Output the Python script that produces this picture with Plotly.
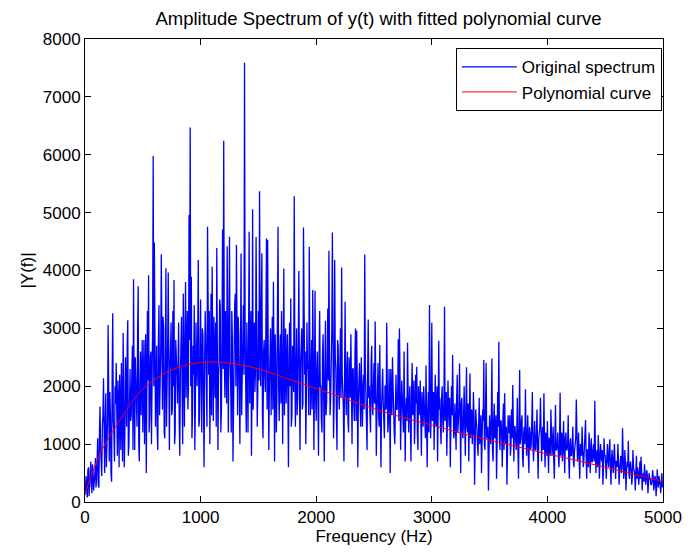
import plotly.graph_objects as go

# Spectrum sampled every 5 Hz; values read from the picture in two interleaved
# lists: samples at 0,10,20,... Hz and samples at 5,15,25,... Hz
freq_step = 10
n_points = 500

# |Y(f)| at 0, 10, 20, ... Hz (blocks of 100 Hz, 10 values each)
spectrum_even = [
    120, 450, 80, 600, 250, 700, 150, 520, 300, 760,           # 0
    400, 1100, 250, 1650, 600, 1300, 2140, 500, 1880, 900,     # 100
    3060, 700, 1500, 350, 3260, 1200, 2000, 2400, 800, 1700,   # 200
    2200, 900, 1800, 2920, 600, 2500, 1300, 3140, 1000, 2300,  # 300
    1500, 2700, 3850, 900, 2100, 1300, 3730, 700, 2600, 1900,  # 400
    1200, 2800, 2000, 500, 3300, 3920, 1500, 2600, 1800, 5980, # 500
    4485, 1300, 2700, 900, 3400, 2200, 4280, 1600, 3000, 1100, # 600
    4040, 1800, 3967, 900, 2900, 1500, 3300, 3834, 1200, 2600, # 700
    1700, 3100, 800, 2700, 1900, 3604, 1300, 3800, 2400, 1600, # 800
    4957, 6471, 3891, 1500, 2200, 900, 3100, 2000, 4180, 1400, # 900
    3500, 1200, 2900, 600, 3300, 1800, 4755, 2200, 1000, 3600, # 1000
    4065, 1400, 2600, 3100, 4387, 900, 2400, 3400, 1600, 4710, # 1100
    6240, 1800, 2800, 4420, 1200, 4582, 2100, 3300, 700, 2600, # 1200
    3600, 4439, 1500, 2900, 1000, 4295, 2300, 3400, 7588, 2000,# 1300
    3100, 1200, 4668, 2500, 800, 5060, 2700, 1900, 4580, 1300, # 1400
    3300, 5371, 2000, 4300, 1100, 2800, 1900, 4554, 4530, 900, # 1500
    2600, 1500, 3200, 3805, 700, 2400, 1800, 4755, 1400, 2900, # 1600
    3300, 1000, 4036, 2200, 1700, 2900, 600, 3100, 3518, 1500, # 1700
    2500, 5285, 1300, 3000, 1800, 3990, 900, 2700, 1600, 4744, # 1800
    2200, 1000, 3100, 2400, 4410, 1500, 2800, 3661, 900, 3650, # 1900
    1400, 2600, 800, 3300, 2000, 1200, 2900, 700, 3131, 1700,  # 2000
    3345, 4341, 1500, 2500, 4658, 1100, 4180, 2300, 900, 2700, # 2100
    1600, 3000, 4053, 2000, 700, 3460, 1500, 2600, 1200, 2200, # 2200
    2900, 1000, 2300, 1400, 3000, 2958, 600, 2100, 1700, 2500, # 2300
    1300, 2200, 4278, 1800, 900, 3155, 2000, 1200, 2700, 1500, # 2400
    2400, 3120, 800, 2000, 1500, 2712, 600, 2200, 1700, 1100,  # 2500
    2000, 3097, 1200, 2300, 500, 1800, 2500, 1400, 1000, 2200, # 2600
    1600, 2810, 3000, 900, 2100, 1400, 2600, 700, 1800, 2750,  # 2700
    1200, 2000, 700, 2400, 1600, 1000, 2200, 2337, 900, 1500,  # 2800
    2100, 800, 1600, 2000, 1300, 2360, 600, 1900, 3402, 1100,  # 2900
    3097, 1500, 900, 2200, 1400, 700, 2786, 1800, 1000, 2000,  # 3000
    1200, 3373, 1600, 800, 2100, 1300, 600, 2000, 2539, 1100,  # 3100
    1700, 900, 2200, 1400, 2395, 500, 1800, 1100, 2000, 800,   # 3200
    2326, 1200, 700, 2222, 1500, 1000, 1900, 300, 1600, 1300,  # 3300
    800, 1800, 1200, 500, 1600, 2452, 900, 2400, 1300, 200,    # 3400
    1500, 1000, 2481, 700, 1700, 1200, 400, 1900, 2769, 900,   # 3500
    1400, 600, 1700, 1877, 1000, 300, 1500, 1200, 800, 1600,   # 3600
    2020, 700, 1300, 900, 1800, 400, 2280, 1100, 1500, 600,    # 3700
    1300, 1950, 800, 1500, 500, 1200, 1000, 1900, 700, 1400,   # 3800
    900, 1600, 400, 1200, 1800, 700, 1300, 1877, 600, 1100,    # 3900
    1400, 500, 1100, 1600, 800, 1300, 400, 1675, 900, 1200,    # 4000
    600, 1888, 1000, 700, 1400, 500, 1200, 900, 1500, 400,     # 4100
    1100, 800, 1300, 600, 1000, 1773, 700, 1200, 400, 900,     # 4200
    1300, 600, 1000, 1416, 400, 900, 1200, 500, 1100, 700,     # 4300
    1000, 1750, 500, 900, 1157, 400, 1000, 700, 300, 1100,     # 4400
    800, 400, 1000, 600, 1083, 300, 900, 500, 1000, 400,       # 4500
    700, 1000, 300, 800, 500, 1273, 400, 900, 200, 700,        # 4600
    1059, 400, 700, 300, 900, 500, 200, 800, 600, 300,         # 4700
    700, 783, 200, 500, 650, 300, 550, 150, 500, 400,          # 4800
    300, 550, 200, 450, 100, 565, 250, 400, 150, 500,          # 4900
]

# |Y(f)| at 5, 15, 25, ... Hz (blocks of 100 Hz, 10 values each)
spectrum_odd = [
    350, 200, 550, 100, 420, 300, 650, 200, 480, 250,          # 0
    700, 300, 1200, 900, 450, 1500, 800, 1300, 600, 1400,      # 100
    1200, 1900, 500, 2200, 1400, 700, 1700, 1100, 2100, 600,   # 200
    1600, 2400, 700, 1900, 1200, 2000, 2700, 800, 1700, 1400,  # 300
    2200, 900, 1800, 2500, 1400, 2900, 1000, 2000, 1500, 2800, # 400
    2300, 1000, 2900, 1700, 2100, 1200, 2500, 1000, 3100, 2000,# 500
    2400, 2000, 1200, 2800, 1500, 2600, 1900, 3200, 1200, 2500,# 600
    1300, 2700, 1900, 2300, 3100, 1600, 2000, 1000, 2800, 2200,# 700
    2600, 1400, 2200, 3200, 1000, 2500, 2900, 1800, 3300, 2000,# 800
    2800, 2000, 1100, 2700, 3400, 1700, 2400, 2900, 1300, 2600,# 900
    2000, 3000, 1700, 2400, 2800, 1300, 2600, 3300, 2100, 1500,# 1000
    2400, 3200, 1800, 1300, 2700, 2200, 3500, 1200, 2900, 2300,# 1100
    2600, 3300, 1700, 2200, 3000, 2400, 1200, 2800, 1900, 3400,# 1200
    2000, 2600, 3200, 1900, 2500, 1500, 3100, 2200, 2900, 1200,# 1300
    2400, 2900, 1700, 3300, 2000, 1600, 3100, 2300, 2600, 1900,# 1400
    2100, 2800, 3400, 1500, 2600, 2200, 3100, 1600, 2500, 2000,# 1500
    3000, 2200, 1600, 2400, 2900, 1200, 3300, 2000, 2500, 1700,# 1600
    2200, 2700, 1500, 3000, 2400, 1800, 2600, 2000, 1300, 2700,# 1700
    1900, 2600, 2200, 1500, 2800, 2100, 2400, 3000, 1700, 2300,# 1800
    2600, 1800, 2300, 1500, 2700, 2100, 1600, 2500, 2000, 1800,# 1900
    2300, 1700, 2500, 2000, 1400, 2600, 1800, 2200, 1500, 2400,# 2000
    2100, 2500, 1800, 3000, 2200, 1700, 2500, 1500, 2800, 1900,# 2100
    2400, 1800, 2200, 1600, 2600, 2000, 2300, 1400, 2500, 1800,# 2200
    1800, 2300, 1700, 2500, 1400, 2100, 1800, 2400, 1300, 1900,# 2300
    2000, 1600, 2300, 1300, 2200, 1800, 1500, 2400, 1700, 2000,# 2400
    1700, 2100, 1500, 2400, 1300, 1900, 1600, 2300, 1400, 2000,# 2500
    1600, 2000, 1400, 1800, 2300, 1500, 2000, 1200, 1900, 1600,# 2600
    1900, 1400, 2200, 1500, 1800, 1200, 2000, 1600, 1400, 1900,# 2700
    1700, 1300, 1900, 1500, 2100, 1400, 1700, 1200, 2000, 1600,# 2800
    1500, 1900, 1300, 1700, 1100, 1800, 1500, 1200, 2000, 1600,# 2900
    1400, 1900, 1700, 1300, 2000, 1500, 1600, 1300, 1800, 1400,# 3000
    1700, 1400, 1900, 1200, 1600, 1800, 1300, 1500, 1700, 1200,# 3100
    1400, 1800, 1200, 1600, 1300, 1700, 1200, 1500, 1300, 1600,# 3200
    1300, 1700, 1400, 1100, 1600, 1200, 1500, 1100, 1400, 1000,# 3300
    1300, 1000, 1500, 1200, 1400, 1000, 1600, 1100, 1300, 1200,# 3400
    1200, 1500, 900, 1400, 1100, 1500, 1000, 1300, 1100, 1400, # 3500
    1100, 1400, 900, 1200, 1300, 900, 1200, 1500, 1000, 1100,  # 3600
    1000, 1300, 1100, 1200, 900, 1300, 1000, 1400, 800, 1200,  # 3700
    1000, 1200, 1100, 800, 1300, 900, 1400, 1000, 1100, 900,   # 3800
    1200, 900, 1100, 1300, 800, 1200, 900, 1000, 1200, 800,    # 3900
    900, 1100, 800, 1200, 1000, 700, 1100, 900, 1000, 800,     # 4000
    1000, 800, 1200, 900, 700, 1100, 900, 1000, 700, 1000,     # 4100
    800, 1000, 700, 900, 1100, 800, 900, 700, 1000, 800,       # 4200
    900, 700, 1000, 800, 900, 600, 1000, 800, 700, 900,        # 4300
    700, 900, 800, 600, 900, 700, 800, 900, 600, 800,          # 4400
    600, 800, 700, 900, 600, 750, 600, 800, 650, 700,          # 4500
    600, 700, 550, 800, 600, 700, 500, 650, 550, 600,          # 4600
    500, 650, 550, 450, 600, 500, 550, 400, 500, 450,          # 4700
    400, 550, 450, 350, 500, 400, 450, 350, 400, 300,          # 4800
    350, 450, 300, 400, 250, 350, 450, 300, 350, 250,          # 4900
]

freqs = []
spectrum = []
for i in range(n_points):
    freqs.append(i * freq_step)
    spectrum.append(spectrum_even[i])
    freqs.append(i * freq_step + freq_step // 2)
    spectrum.append(spectrum_odd[i])

# Fitted polynomial curve, read at selected frequencies
poly_freqs = [0, 125, 250, 500, 750, 1000, 1250, 1500, 1750, 2000, 2250,
              2500, 2750, 3000, 3250, 3500, 3750, 4000, 4250, 4500, 4750, 4990]
poly_vals = [150, 810, 1250, 1950, 2280, 2410, 2400, 2300, 2130, 1960, 1790,
             1610, 1460, 1330, 1190, 1070, 950, 830, 720, 600, 480, 360]

font_family = "Liberation Sans, Arial, Helvetica, sans-serif"

fig = go.Figure()
fig.add_trace(go.Scatter(
    x=freqs, y=spectrum, mode="lines", name="Original spectrum",
    line=dict(color="#0000FF", width=1.3),
))
fig.add_trace(go.Scatter(
    x=poly_freqs, y=poly_vals, mode="lines", name="Polynomial curve",
    line=dict(color="#FF0000", width=1, shape="spline"),
))

axis_common = dict(
    showline=True, linecolor="black", linewidth=1, mirror="ticks",
    ticks="inside", ticklen=6, tickcolor="black", showgrid=False,
    zeroline=False, tickfont=dict(family=font_family, size=17, color="black"),
)

fig.update_layout(
    width=694, height=557,
    margin=dict(l=85, r=22, t=39, b=55),
    paper_bgcolor="white", plot_bgcolor="white",
    font=dict(family=font_family, size=17, color="black"),
    title=dict(text="Amplitude Spectrum of y(t) with fitted polynomial curve",
               x=(85 + 672) / 2 / 694, xref="container", xanchor="center",
               y=1 - 19 / 557, yanchor="middle",
               font=dict(family=font_family, size=18.5, color="black")),
    xaxis=dict(range=[0, 5000], tickmode="array",
               tickvals=[0, 1000, 2000, 3000, 4000, 5000],
               title=dict(text="Frequency (Hz)", standoff=2,
                          font=dict(family=font_family, size=17)),
               **axis_common),
    yaxis=dict(range=[0, 8000], tickmode="array",
               tickvals=[0, 1000, 2000, 3000, 4000, 5000, 6000, 7000, 8000],
               title=dict(text="|Y(f)|", standoff=4,
                          font=dict(family=font_family, size=17)),
               **axis_common),
    legend=dict(x=0.998, y=0.98, xanchor="right", yanchor="top",
                bgcolor="white", bordercolor="black", borderwidth=1,
                font=dict(family=font_family, size=17, color="black"),
                itemwidth=55, tracegroupgap=0),
    showlegend=True,
)

fig.write_html("out.html")
